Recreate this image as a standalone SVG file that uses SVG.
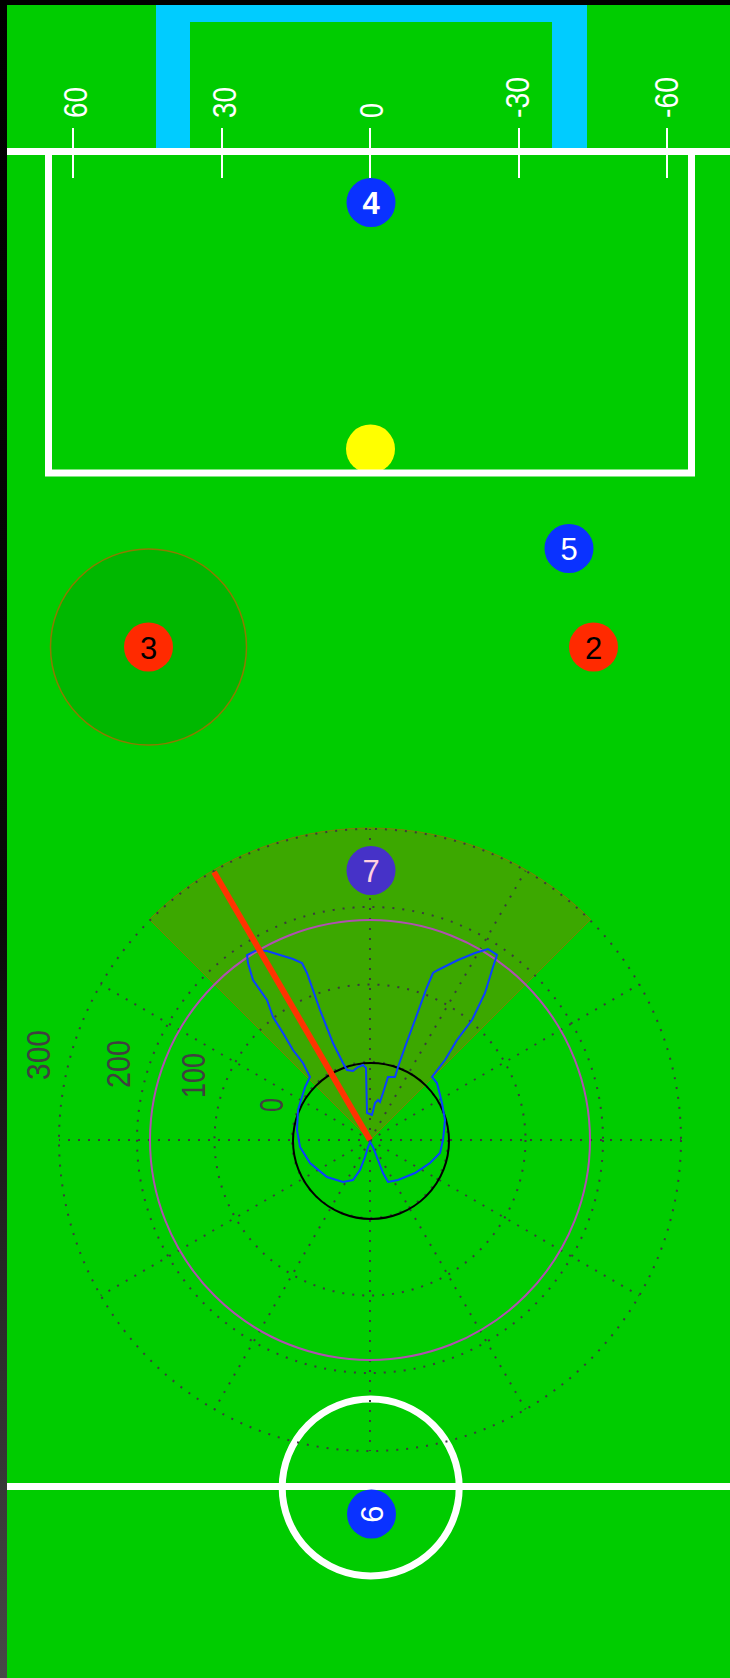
<svg xmlns="http://www.w3.org/2000/svg" width="730" height="1678" viewBox="0 0 730 1678">
<defs>
<linearGradient id="edge" x1="0" y1="0" x2="0" y2="1">
<stop offset="0" stop-color="#000"/>
<stop offset="0.55" stop-color="#0a0a0a"/>
<stop offset="1" stop-color="#484848"/>
</linearGradient>
<style>
.wl{stroke:#fff;stroke-width:7;fill:none}
.tk{stroke:#fff;stroke-width:2}
.tl{font-family:"Liberation Sans",Arial,sans-serif;font-size:34px;fill:#fff}
.pl{font-family:"Liberation Sans",Arial,sans-serif;font-size:34px;fill:#404040}
.dot{stroke:#3c3c3c;stroke-width:2;stroke-dasharray:2 8;fill:none}
.rn{font-family:"Liberation Sans",Arial,sans-serif;font-size:31px;text-anchor:middle}
.blue{fill:#0a32ff}
.red{fill:#ff2a00}
</style>
</defs>
<g id="field">
<rect x="0" y="0" width="730" height="1678" fill="#00cc00"/>
<path d="M156,5 H587 V148 H552 V22 H190 V148 H156 Z" fill="#00ccff"/>
<circle id="halo3" cx="148.5" cy="647" r="98" fill="#00b800" stroke="#8c7a00" stroke-width="1.5"/>
</g>
<g id="ball">
<circle cx="370.5" cy="449" r="24.5" fill="#ffff00"/>
</g>
<g id="lines">
<line class="wl" x1="7" y1="151.5" x2="730" y2="151.5"/>
<path class="wl" d="M48.5,152 V473 H691.5 V152"/>
<line class="wl" x1="7" y1="1486.5" x2="730" y2="1486.5"/>
<circle class="wl" cx="370.7" cy="1487.5" r="88.5" stroke-width="6"/>
</g>
<g id="ticks">
<line class="tk" x1="73" y1="128" x2="73" y2="178"/>
<line class="tk" x1="222" y1="128" x2="222" y2="178"/>
<line class="tk" x1="370" y1="128" x2="370" y2="178"/>
<line class="tk" x1="519" y1="128" x2="519" y2="178"/>
<line class="tk" x1="667" y1="128" x2="667" y2="178"/>
<text class="tl" transform="translate(87,118) rotate(-90)" textLength="31" lengthAdjust="spacingAndGlyphs">60</text>
<text class="tl" transform="translate(236,118) rotate(-90)" textLength="31" lengthAdjust="spacingAndGlyphs">30</text>
<text class="tl" transform="translate(383,118) rotate(-90)" textLength="15" lengthAdjust="spacingAndGlyphs">0</text>
<text class="tl" transform="translate(529,118) rotate(-90)" textLength="41" lengthAdjust="spacingAndGlyphs">-30</text>
<text class="tl" transform="translate(678,118) rotate(-90)" textLength="41" lengthAdjust="spacingAndGlyphs">-60</text>
</g>
<g id="sector">
<path d="M370,1140 L149.4,919.4 A312,312 0 0,1 590.6,919.4 Z" fill="#3ca800" stroke="#7a8400" stroke-width="1"/>
</g>
<g id="polar-grid">
<circle class="dot" cx="370" cy="1140" r="78"/>
<circle class="dot" cx="370" cy="1140" r="155.5"/>
<circle class="dot" cx="370" cy="1140" r="233"/>
<circle class="dot" cx="370" cy="1140" r="311"/>
<line class="dot" x1="370" y1="1140" x2="681" y2="1140"/>
<line class="dot" x1="370" y1="1140" x2="59" y2="1140"/>
<line class="dot" x1="370" y1="1140" x2="370" y2="829"/>
<line class="dot" x1="370" y1="1140" x2="370" y2="1451"/>
<line class="dot" x1="370" y1="1140" x2="639.3" y2="984.5"/>
<line class="dot" x1="370" y1="1140" x2="100.7" y2="984.5"/>
<line class="dot" x1="370" y1="1140" x2="100.7" y2="1295.5"/>
<line class="dot" x1="370" y1="1140" x2="639.3" y2="1295.5"/>
<line class="dot" x1="370" y1="1140" x2="525.5" y2="870.7"/>
<line class="dot" x1="370" y1="1140" x2="214.5" y2="870.7"/>
<line class="dot" x1="370" y1="1140" x2="214.5" y2="1409.3"/>
<line class="dot" x1="370" y1="1140" x2="525.5" y2="1409.3"/>
<text class="pl" transform="translate(50,1080) rotate(-90)" textLength="50" lengthAdjust="spacingAndGlyphs">300</text>
<text class="pl" transform="translate(130,1088) rotate(-90)" textLength="48" lengthAdjust="spacingAndGlyphs">200</text>
<text class="pl" transform="translate(205,1098) rotate(-90)" textLength="45" lengthAdjust="spacingAndGlyphs">100</text>
<text class="pl" transform="translate(283,1112) rotate(-90)" textLength="14" lengthAdjust="spacingAndGlyphs">0</text>
</g>
<g id="polar-plot">
<circle cx="370" cy="1140" r="220" fill="none" stroke="#b050b0" stroke-width="2"/>
<circle cx="371" cy="1141" r="78" fill="none" stroke="#000" stroke-width="2"/>
<path fill="none" stroke="#0a40ff" stroke-width="2" d="M370,1142 L368,1147 L365,1157 L360,1170 L353,1180 L343,1182 L327,1177 L310,1163 L300,1147 L297,1130 L298,1110 L302,1097 L305,1087 L310,1077 L303,1063 L293,1050 L283,1033 L273,1017 L267,1000 L253,980 L248,963 L247,955 L257,950 L267,951 L293,959 L302,963 L307,973 L320,1010 L333,1043 L343,1063 L347,1070 L353,1071 L358,1067 L363,1065 L366,1068 L367,1113 L372,1115 L375,1103 L378,1100 L380,1102 L383,1093 L388,1077 L395,1077 L398,1067 L405,1047 L415,1020 L427,987 L433,973 L438,970 L458,960 L475,953 L488,949 L497,955 L493,967 L485,993 L472,1020 L457,1040 L445,1060 L432,1077 L437,1083 L442,1103 L445,1120 L443,1140 L440,1153 L430,1163 L415,1173 L398,1180 L388,1182 L383,1173 L378,1160 L373,1147 Z"/>
<line x1="214" y1="872" x2="370" y2="1140" stroke="#ff3300" stroke-width="6"/>
</g>
<g id="robot4"><circle class="blue" cx="371" cy="202.5" r="24.5"/><text class="rn" x="371" y="214" fill="#fff" font-weight="bold">4</text></g>
<g id="robot5"><circle class="blue" cx="569" cy="548.5" r="24.5"/><text class="rn" x="569" y="560" fill="#fff">5</text></g>
<g id="robot3"><circle class="red" cx="148.5" cy="647" r="24.5"/><text class="rn" x="148.5" y="659" fill="#000">3</text></g>
<g id="robot2"><circle class="red" cx="593.5" cy="647" r="24.5"/><text class="rn" x="593.5" y="659" fill="#000">2</text></g>
<g id="robot7"><circle cx="371" cy="870.5" r="24.5" fill="#4632c8"/><text class="rn" x="371" y="882" fill="#ffd0e0">7</text></g>
<g id="robot6"><circle class="blue" cx="371.5" cy="1514" r="24.5"/><text class="rn" transform="translate(383,1514) rotate(-90)" x="0" y="0" fill="#fff">6</text></g>
<g id="border">
<rect x="0" y="0" width="7" height="1678" fill="url(#edge)"/>
<rect x="0" y="0" width="730" height="5" fill="#000"/>
</g>
</svg>
